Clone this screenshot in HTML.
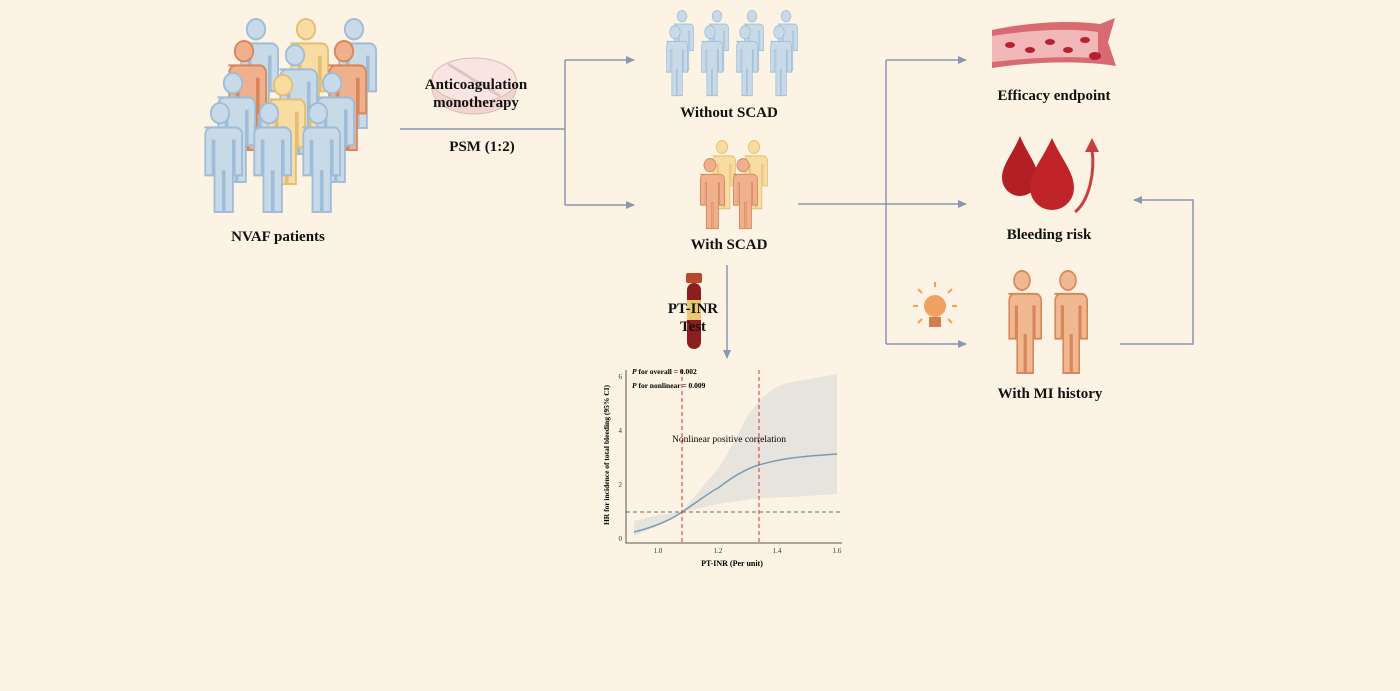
<!DOCTYPE html>
<html><head><meta charset="utf-8"><style>
body{margin:0;background:#fdf3e4;}
svg{display:block}
text{font-family:"Liberation Serif",serif;}
.b{font-weight:bold;font-size:15px;fill:#111;text-anchor:middle}
</style></head><body>
<svg width="1400" height="691" viewBox="0 0 1400 691" xmlns="http://www.w3.org/2000/svg">
<defs>
<symbol id="p" viewBox="0 0 50 110" preserveAspectRatio="none">
<circle cx="25" cy="11" r="10"/>
<path d="M8,25 h34 a7,7 0 0 1 7,7 v40 h-8 v-34 h-2 v70 h-9 v-40 h-2 v40 h-9 v-70 h-2 v34 h-8 v-40 a7,7 0 0 1 7,-7 z"/>
</symbol>
<marker id="a" markerUnits="userSpaceOnUse" markerWidth="9" markerHeight="8" refX="8" refY="4" orient="auto"><path d="M0,0 L9,4 L0,8 z" fill="#8a97b0"/></marker>
</defs>
<rect width="1400" height="691" fill="#fdf3e4"/>
<!-- NVAF crowd -->
<g stroke-width="2">
<use href="#p" x="233" y="18" width="46" height="112" fill="#c8dae8" stroke="#9fbdd8"/>
<use href="#p" x="283" y="18" width="46" height="112" fill="#f8dca2" stroke="#e3bf72"/>
<use href="#p" x="331" y="18" width="46" height="112" fill="#c8dae8" stroke="#9fbdd8"/>
<use href="#p" x="221" y="40" width="46" height="112" fill="#f0b08e" stroke="#d8875a"/>
<use href="#p" x="272" y="44" width="46" height="112" fill="#c8dae8" stroke="#9fbdd8"/>
<use href="#p" x="321" y="40" width="46" height="112" fill="#f0b08e" stroke="#d8875a"/>
<use href="#p" x="210" y="72" width="46" height="112" fill="#c8dae8" stroke="#9fbdd8"/>
<use href="#p" x="260" y="74" width="46" height="112" fill="#f8dca2" stroke="#e3bf72"/>
<use href="#p" x="309" y="72" width="46" height="112" fill="#c8dae8" stroke="#9fbdd8"/>
<use href="#p" x="197" y="102" width="46" height="112" fill="#c8dae8" stroke="#9fbdd8"/>
<use href="#p" x="246" y="102" width="46" height="112" fill="#c8dae8" stroke="#9fbdd8"/>
<use href="#p" x="295" y="102" width="46" height="112" fill="#c8dae8" stroke="#9fbdd8"/>
</g>
<text class="b" x="278" y="241">NVAF patients</text>
<!-- pill -->
<ellipse cx="474" cy="88" rx="42" ry="26" fill="#f2d4d0" stroke="#d8b8b4"/>
<ellipse cx="474" cy="80" rx="42" ry="22" fill="#f8e4e0" stroke="#d8b8b4"/>
<path d="M448,64 L500,96" stroke="#e0c4c0" stroke-width="3"/>
<text class="b" x="476" y="89">Anticoagulation</text>
<text class="b" x="476" y="107">monotherapy</text>
<text class="b" x="482" y="151">PSM (1:2)</text>
<g stroke="#8a97b0" stroke-width="1.5" fill="none">
<path d="M400,129 H565"/>
<path d="M565,60 V205"/>
<path d="M565,60 H634" marker-end="url(#a)"/>
<path d="M565,205 H634" marker-end="url(#a)"/>
<path d="M798,204 H966" marker-end="url(#a)"/>
<path d="M886,60 V344"/>
<path d="M886,60 H966" marker-end="url(#a)"/>
<path d="M886,344 H966" marker-end="url(#a)"/>
<path d="M1120,344 H1193 V200 H1134" marker-end="url(#a)"/>
<path d="M727,265 V358" marker-end="url(#a)"/>
</g>
<!-- without SCAD -->
<g stroke-width="1.5" fill="#c8dae8" stroke="#9fbdd8">
<use href="#p" x="670" y="10" width="24" height="62"/>
<use href="#p" x="705" y="10" width="24" height="62"/>
<use href="#p" x="740" y="10" width="24" height="62"/>
<use href="#p" x="774" y="10" width="24" height="62"/>
<use href="#p" x="662" y="25" width="26" height="72"/>
<use href="#p" x="697" y="25" width="26" height="72"/>
<use href="#p" x="732" y="25" width="26" height="72"/>
<use href="#p" x="766" y="25" width="26" height="72"/>
</g>
<text class="b" x="729" y="117">Without SCAD</text>
<g stroke-width="1.5">
<use href="#p" x="708" y="140" width="28" height="70" fill="#f8dca2" stroke="#e3bf72"/>
<use href="#p" x="740" y="140" width="28" height="70" fill="#f8dca2" stroke="#e3bf72"/>
<use href="#p" x="695" y="158" width="30" height="72" fill="#f0b08e" stroke="#d8875a"/>
<use href="#p" x="728" y="158" width="30" height="72" fill="#f0b08e" stroke="#d8875a"/>
</g>
<text class="b" x="729" y="249">With SCAD</text>
<!-- tube -->
<rect x="686" y="273" width="16" height="10" rx="2" fill="#b84a2a"/>
<rect x="687" y="283" width="14" height="66" rx="7" fill="#8c1e1e"/>
<rect x="687" y="300" width="14" height="20" fill="#e8c870"/>
<text class="b" x="693" y="313">PT-INR</text>
<text class="b" x="693" y="331">Test</text>
<!-- plot -->
<path d="M634,521 L658,515 L682,512 C700,490 712,475 718,469 C730,450 740,430 747,417 L759,401 C770,390 780,384 792,382 L837,374 L837,494 L792,497 L759,498 L718,504 L682,512 L658,526 L634,536 Z" fill="#e6e4dc"/>
<path d="M634,532 C650,528 668,522 682,512 C700,500 710,492 718,488 C735,475 748,468 759,465 C775,460 790,458 810,456 L837,454" fill="none" stroke="#7b9ab0" stroke-width="1.5"/>
<path d="M626,512 H842" stroke="#7a6a5a" stroke-dasharray="4,3"/>
<path d="M682,370 V543 M759,370 V543" stroke="#d83030" stroke-dasharray="4,3"/>
<path d="M626,370 V543 H842" stroke="#555" fill="none"/>
<g font-size="7" fill="#333" text-anchor="end">
<text x="622" y="541">0</text><text x="622" y="487">2</text><text x="622" y="433">4</text><text x="622" y="379">6</text>
</g>
<g font-size="7" fill="#333" text-anchor="middle">
<text x="658" y="553">1.0</text><text x="718" y="553">1.2</text><text x="777" y="553">1.4</text><text x="837" y="553">1.6</text>
</g>
<text x="732" y="566" font-size="8" font-weight="bold" text-anchor="middle">PT-INR (Per unit)</text>
<text transform="translate(609,455) rotate(-90)" font-size="7.5" font-weight="bold" text-anchor="middle">HR for incidence of total bleeding  (95% CI)</text>
<text x="632" y="374" font-size="7.5" font-weight="bold"><tspan font-style="italic">P</tspan> for overall = 0.002</text>
<text x="632" y="388" font-size="7.5" font-weight="bold"><tspan font-style="italic">P</tspan> for nonlinear = 0.009</text>
<text x="729" y="442" font-size="9.5" text-anchor="middle">Nonlinear positive correlation</text>
<!-- vessel -->
<path d="M992,30 C1030,22 1070,20 1100,24 L1115,18 L1108,42 L1116,66 C1080,60 1030,62 992,68 Z" fill="#d86a72"/>
<path d="M992,36 C1030,30 1070,28 1098,32 L1098,58 C1060,56 1030,58 992,62 Z" fill="#f2b8b8"/>
<g fill="#b82030"><ellipse cx="1010" cy="45" rx="5" ry="3"/><ellipse cx="1030" cy="50" rx="5" ry="3"/><ellipse cx="1050" cy="42" rx="5" ry="3"/><ellipse cx="1068" cy="50" rx="5" ry="3"/><ellipse cx="1085" cy="40" rx="5" ry="3"/><ellipse cx="1095" cy="56" rx="6" ry="4"/></g>
<text class="b" x="1054" y="100">Efficacy endpoint</text>
<!-- drops -->
<path d="M1020,136 C1012,155 1002,165 1002,178 a18,18 0 0 0 36,0 C1038,165 1028,155 1020,136 Z" fill="#b21f24"/>
<path d="M1052,138 C1042,160 1030,172 1030,188 a22,22 0 0 0 44,0 C1074,172 1062,160 1052,138 Z" fill="#c02428"/>
<path d="M1075,212 C1090,200 1095,170 1092,150" stroke="#c84040" stroke-width="3" fill="none"/>
<path d="M1085,152 L1092,138 L1099,152 Z" fill="#c84040"/>
<text class="b" x="1049" y="239">Bleeding risk</text>
<!-- MI -->
<g stroke-width="2" fill="#f0b890" stroke="#d8875a">
<use href="#p" x="1002" y="270" width="40" height="105"/>
<use href="#p" x="1048" y="270" width="40" height="105"/>
</g>
<text class="b" x="1050" y="398">With MI history</text>
<!-- bulb -->
<circle cx="935" cy="306" r="11" fill="#f0a060"/>
<rect x="929" y="317" width="12" height="10" fill="#d08050"/>
<g stroke="#f0a060" stroke-width="2"><path d="M935,287 v-5 M918,306 h-5 M952,306 h5 M922,293 l-4,-4 M948,293 l4,-4 M922,319 l-4,4 M948,319 l4,4"/></g>
</svg>
</body></html>
